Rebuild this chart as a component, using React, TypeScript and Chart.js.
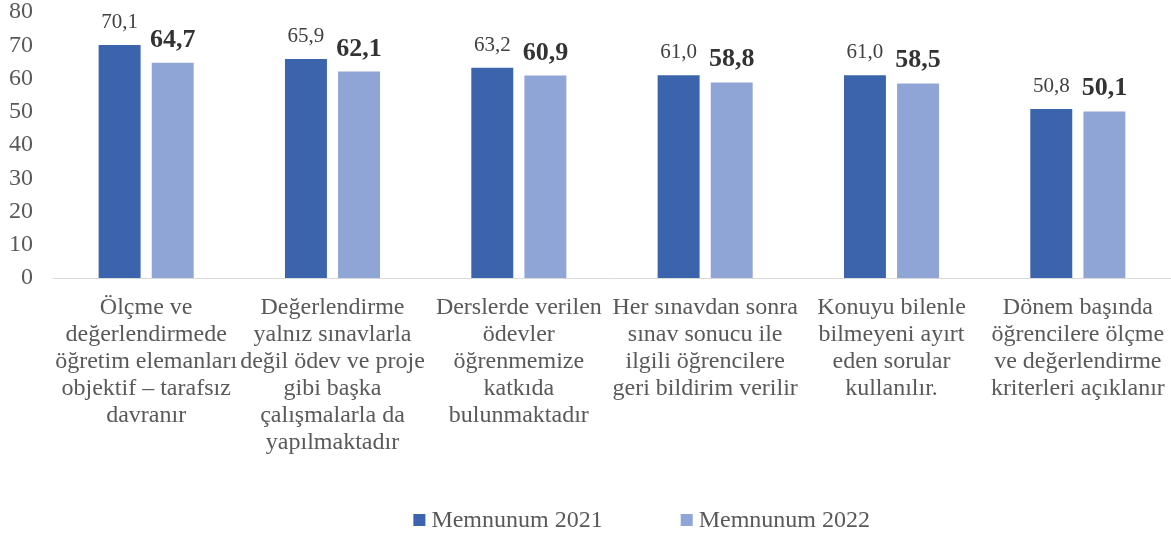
import React, { useEffect, useRef } from "react";
import { Chart, registerables } from "chart.js";

Chart.register(...registerables);

const categories: string[][] = [
  ["Ölçme ve", "değerlendirmede", "öğretim elemanları", "objektif – tarafsız", "davranır"],
  ["Değerlendirme", "yalnız sınavlarla", "değil ödev ve proje", "gibi başka", "çalışmalarla da", "yapılmaktadır"],
  ["Derslerde verilen", "ödevler", "öğrenmemize", "katkıda", "bulunmaktadır"],
  ["Her sınavdan sonra", "sınav sonucu ile", "ilgili öğrencilere", "geri bildirim verilir"],
  ["Konuyu bilenle", "bilmeyeni ayırt", "eden sorular", "kullanılır."],
  ["Dönem başında", "öğrencilere ölçme", "ve değerlendirme", "kriterleri açıklanır"],
];
const series2021: number[] = [70.1, 65.9, 63.2, 61.0, 61.0, 50.8];
const series2022: number[] = [64.7, 62.1, 60.9, 58.8, 58.5, 50.1];
const seriesNames: string[] = ["Memnunum 2021", "Memnunum 2022"];
const seriesColors: string[] = ["#3B64AD", "#8FA5D5"];

const FONT = '"Liberation Serif", "Times New Roman", serif';
const TEXT = "#595959";

const fmt = (v: number) => v.toFixed(1).replace(".", ",");

const dataLabels = {
  id: "dataLabels",
  afterDatasetsDraw(chart: any) {
    const ctx = chart.ctx;
    ctx.save();
    ctx.textAlign = "center";
    ctx.textBaseline = "alphabetic";
    chart.data.datasets.forEach((ds: any, di: number) => {
      const meta = chart.getDatasetMeta(di);
      meta.data.forEach((bar: any, i: number) => {
        const v = ds.data[i];
        if (di === 0) {
          ctx.font = `21px ${FONT}`;
          ctx.fillStyle = "#404040";
          ctx.fillText(fmt(v), bar.x, bar.y - 17);
        } else {
          ctx.font = `bold 26px ${FONT}`;
          ctx.fillStyle = "#333333";
          ctx.fillText(fmt(v), bar.x, bar.y - 16);
        }
      });
    });
    ctx.restore();
  },
};

const customLegend = {
  id: "customLegend",
  afterDraw(chart: any) {
    const ctx = chart.ctx;
    ctx.save();
    ctx.font = `24px ${FONT}`;
    ctx.textBaseline = "middle";
    ctx.textAlign = "left";
    const box = 12;
    const gapBoxText = 6;
    const itemGap = 78;
    const widths = seriesNames.map((n) => box + gapBoxText + ctx.measureText(n).width);
    const total = widths.reduce((a, b) => a + b, 0) + itemGap * (widths.length - 1);
    let x = chart.width * 0.548 - total / 2;
    const cy = 520;
    seriesNames.forEach((n, i) => {
      ctx.fillStyle = seriesColors[i];
      ctx.fillRect(x, cy - box / 2, box, box);
      ctx.fillStyle = TEXT;
      ctx.fillText(n, x + box + gapBoxText, cy + 1);
      x += widths[i] + itemGap;
    });
    ctx.restore();
  },
};

export default function App() {
  const ref = useRef<HTMLCanvasElement | null>(null);
  useEffect(() => {
    if (!ref.current) return;
    const chart = new Chart(ref.current, {
      type: "bar",
      data: {
        labels: categories,
        datasets: [
          {
            label: seriesNames[0],
            data: series2021,
            backgroundColor: seriesColors[0],
            categoryPercentage: 0.57,
            barPercentage: 0.79,
          },
          {
            label: seriesNames[1],
            data: series2022,
            backgroundColor: seriesColors[1],
            categoryPercentage: 0.57,
            barPercentage: 0.79,
          },
        ],
      },
      options: {
        animation: false,
        responsive: true,
        maintainAspectRatio: false,
        layout: { padding: { top: 12, left: 0, right: 0, bottom: 0 } },
        plugins: {
          legend: { display: false },
          tooltip: { enabled: false },
        },
        scales: {
          x: {
            grid: { display: false, drawTicks: false },
            border: { display: true, color: "#D9D9D9", width: 1 },
            ticks: {
              color: TEXT,
              font: { family: FONT, size: 24, lineHeight: 1.13 },
              autoSkip: false,
              maxRotation: 0,
              minRotation: 0,
              padding: 16,
            },
            afterFit: (s: any) => {
              s.height = 261;
              s.paddingLeft = 0;
              s.paddingRight = 0;
            },
          },
          y: {
            min: 0,
            max: 80,
            grid: { display: false, drawTicks: false },
            border: { display: false },
            ticks: {
              stepSize: 10,
              color: TEXT,
              font: { family: FONT, size: 24 },
              padding: 20,
            },
            afterFit: (s: any) => {
              s.width = 53;
              s.paddingTop = 0;
              s.paddingBottom = 0;
            },
          },
        },
      },
      plugins: [dataLabels, customLegend],
    });
    return () => chart.destroy();
  }, []);
  return (
    <div style={{ position: "fixed", left: 0, top: 0, width: 1171, height: 539, background: "#fff" }}>
      <canvas ref={ref} />
    </div>
  );
}
